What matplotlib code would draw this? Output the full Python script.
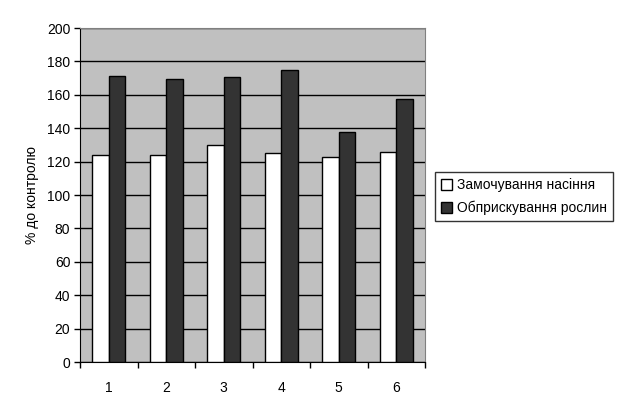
import numpy as np
import matplotlib.pyplot as plt

plt.rcParams['font.family'] = ['Liberation Sans', 'DejaVu Sans']

kategorii = ["1", "2", "3", "4", "5", "6"]
zamochuvannia = [124, 124, 130, 125, 123, 126]
obpryskuvannia = [171.5, 169.5, 170.5, 175, 138, 157.5]

fig = plt.figure(figsize=(6.3, 4.12), dpi=100)
ax = fig.add_axes([80 / 630, 1 - 362 / 412, 345 / 630, 334 / 412])
ax.set_facecolor("#c0c0c0")

x = np.arange(len(kategorii))
w = 0.29
ax.bar(x - w / 2, zamochuvannia, w, color="white", edgecolor="black", linewidth=1,
       label="Замочування насіння", zorder=3)
ax.bar(x + w / 2, obpryskuvannia, w, color="#333333", edgecolor="black", linewidth=1,
       label="Обприскування рослин", zorder=3)

ax.set_ylim(0, 200)
ax.set_xlim(-0.5, 5.5)
ax.set_yticks(range(0, 201, 20))
ax.yaxis.grid(True, color="black", linewidth=1, zorder=0)
ax.set_xticks(x)
ax.set_xticklabels(kategorii)
ax.set_xticks(np.arange(-0.5, 6, 1), minor=True)
ax.tick_params(axis="x", which="major", length=0, pad=14, labelsize=10)
ax.tick_params(axis="x", which="minor", length=4, width=1)
ax.tick_params(axis="y", length=4, width=1, labelsize=10, pad=3)

for s in ["top", "right"]:
    ax.spines[s].set_color("#808080")
for s in ["left", "bottom"]:
    ax.spines[s].set_color("black")

ax.set_ylabel("% до контролю", fontsize=10, labelpad=6)

leg = fig.legend(loc="upper left", bbox_to_anchor=(435 / 630, 1 - 172 / 412),
                 borderaxespad=0,
                 fontsize=10, frameon=True, fancybox=False, edgecolor="black",
                 handlelength=0.8, handleheight=0.8, handletextpad=0.3,
                 borderpad=0.45, labelspacing=0.6)
leg.get_frame().set_linewidth(1)

fig.savefig("out.png", dpi=100)
